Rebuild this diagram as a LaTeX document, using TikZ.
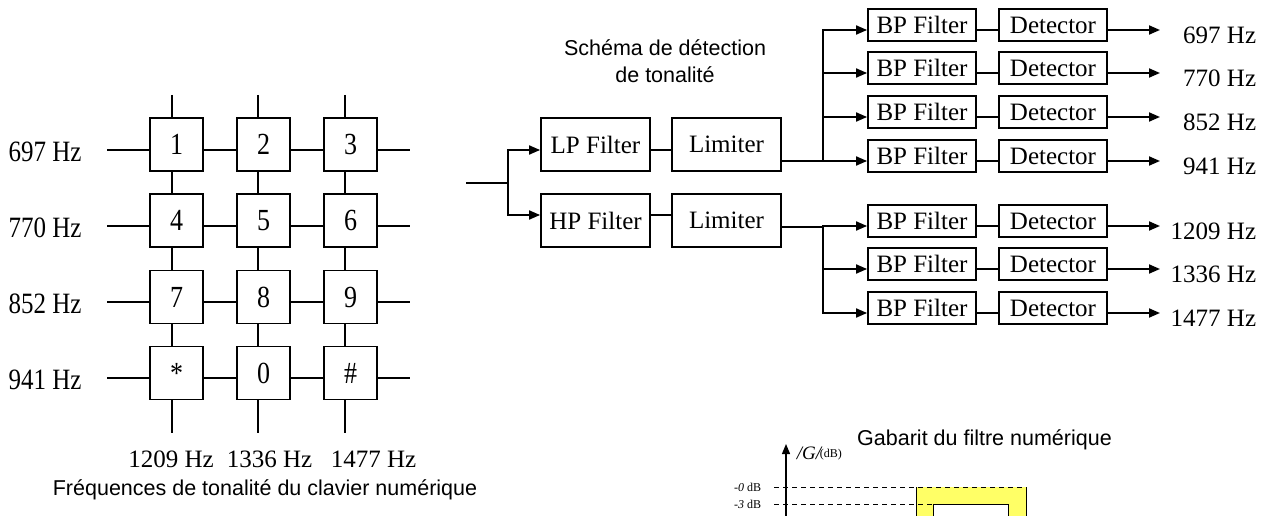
\documentclass[tikz,border=0pt]{standalone}
\usepackage{fontspec}
\setmainfont{Liberation Serif}
\setsansfont{Liberation Sans}
\usetikzlibrary{arrows.meta,calc}
\definecolor{gabfill}{RGB}{255,255,102}
% taller lettering used on the keypad
\newcommand{\tallkey}[1]{\scalebox{1}[1.18]{#1}}
\begin{document}
\begin{tikzpicture}[x=1pt,y=-1pt,line width=1.8pt,
  key/.style={draw,fill=white,minimum width=53pt,minimum height=53pt,inner sep=0pt,
    font=\fontsize{26}{30}\selectfont},
  blk/.style={draw,fill=white,minimum width=109pt,minimum height=53pt,inner sep=0pt,
    font=\fontsize{25}{30}\selectfont},
  bpblk/.style={draw,fill=white,minimum width=108pt,minimum height=32pt,inner sep=0pt,
    font=\fontsize{25}{30}\selectfont},
  lbl/.style={inner sep=0pt,font=\fontsize{25}{30}\selectfont},
  captxt/.style={inner sep=0pt,font=\sffamily\fontsize{21.5}{27}\selectfont},
  smalltxt/.style={inner sep=0pt,font=\fontsize{12}{14}\selectfont},
  arr/.style={-{Triangle[length=11pt,width=9pt]}}
]
\useasboundingbox (0,0) rectangle (1271,516);

% ---------------- keypad grid ----------------
\foreach \r/\y in {1/150,2/226,3/302,4/378}{
  \coordinate (rl\r) at (107,\y);
  \coordinate (rr\r) at (410,\y);
  \draw (rl\r) -- (rr\r);
}
\foreach \c/\x in {1/172,2/258,3/345}{
  \coordinate (ct\c) at (\x,95);
  \coordinate (cb\c) at (\x,433);
  \draw (ct\c) -- (cb\c);
}
\foreach \n/\t/\x/\y in {k1/1/176.5/144.5, k2/2/263.5/144.5, k3/3/350.5/144.5,
                         k4/4/176.5/220.5, k5/5/263.5/220.5, k6/6/350.5/220.5,
                         k7/7/176.5/297,   k8/8/263.5/297,   k9/9/350.5/297,
                         ks/*/176.5/373,   k0/0/263.5/373,   kh/\#/350.5/373}{
  \node[key] (\n) at (\x,\y) {\tallkey{\t}};
}
\node[lbl] (row1) at (45,152) {\tallkey{697 Hz}};
\node[lbl] (row2) at (45,228) {\tallkey{770 Hz}};
\node[lbl] (row3) at (45,304) {\tallkey{852 Hz}};
\node[lbl] (row4) at (45,380) {\tallkey{941 Hz}};
\node[lbl] (col1) at (171,459) {1209 Hz};
\node[lbl] (col2) at (269.5,459) {1336 Hz};
\node[lbl] (col3) at (373.5,459) {1477 Hz};
\node[captxt] (capk) at (265,490) {Fréquences de tonalité du clavier numérique};

% ---------------- detection chain ----------------
\node[captxt,align=center] (caps) at (665,61.5) {Schéma de détection\\de tonalité};
\coordinate (in) at (466,183);
\coordinate (sp) at (508,183);
\node[blk] (lp)   at (595.5,144.5) {LP Filter};
\node[blk] (lim1) at (726.5,144.5) {Limiter};
\node[blk] (hp)   at (595.5,220.5) {HP Filter};
\node[blk] (lim2) at (726.5,220.5) {Limiter};
\draw (in) -- (sp);
\draw[arr] (sp) |- ($(lp.west)+(0,5.5)$);
\draw[arr] (sp) |- ($(hp.west)+(0,-5.5)$);
\draw ($(lp.east)+(0,5.5)$) -- ($(lim1.west)+(0,5.5)$);
\draw ($(hp.east)+(0,-5.5)$) -- ($(lim2.west)+(0,-5.5)$);

\coordinate (b1) at (823,161);
\coordinate (b2) at (823,227);
\draw ($(lim1.east)+(0,16.5)$) -- (b1);
\draw ($(lim2.east)+(0,6.5)$) -- (b2);

\foreach \i/\y/\f/\b in {1/25/697 Hz/b1, 2/68/770 Hz/b1, 3/112/852 Hz/b1, 4/156/941 Hz/b1,
                         5/221/1209 Hz/b2, 6/264/1336 Hz/b2, 7/308/1477 Hz/b2}{
  \node[bpblk] (bp\i) at (922,\y) {BP Filter};
  \node[bpblk] (det\i) at (1053,\y) {Detector};
  \coordinate (out\i) at (1160,\y+5);
  \draw[arr] (\b) |- ($(bp\i.west)+(0,5)$);
  \draw ($(bp\i.east)+(0,5)$) -- ($(det\i.west)+(0,5)$);
  \draw[arr] ($(det\i.east)+(0,5)$) -- (out\i);
  \node[lbl,anchor=east] (f\i) at (1257,\y+10) {\f};
}

% ---------------- filter template ----------------
\node[captxt] (capg) at (984.5,440) {Gabarit du filtre numérique};
\begin{scope}
  \clip (0,0) rectangle (1271,516);
  \fill[gabfill] (916,487) rectangle (1026,530);
  \draw[line width=0.9pt] (916,530) -- (916,487) (1026,487) -- (1026,530);
  \draw[line width=0.9pt,fill=white] (933,530) -- (933,504) -- (1008,504) -- (1008,530);
  \draw[line width=0.8pt,dash pattern=on 5pt off 4pt] (774,487) -- (1026,487);
  \draw[line width=0.8pt,dash pattern=on 5pt off 4pt] (774,504) -- (947,504);
  \coordinate (ax0) at (786,525);
  \coordinate (ax1) at (786,444);
  \draw[line width=1.2pt,-{Triangle[length=10pt,width=8pt]}] (ax0) -- (ax1);
\end{scope}
\node[inner sep=0pt,font=\fontsize{19}{21}\selectfont,anchor=west] (gmag) at (796,453) {\textit{/G/}};
\node[smalltxt,anchor=west] (gunit) at (819,455) {(dB)};
\node[smalltxt,anchor=east] (db0) at (762,487) {\textit{-0} dB};
\node[smalltxt,anchor=east] (db3) at (762,504) {\textit{-3} dB};
\end{tikzpicture}
\end{document}
